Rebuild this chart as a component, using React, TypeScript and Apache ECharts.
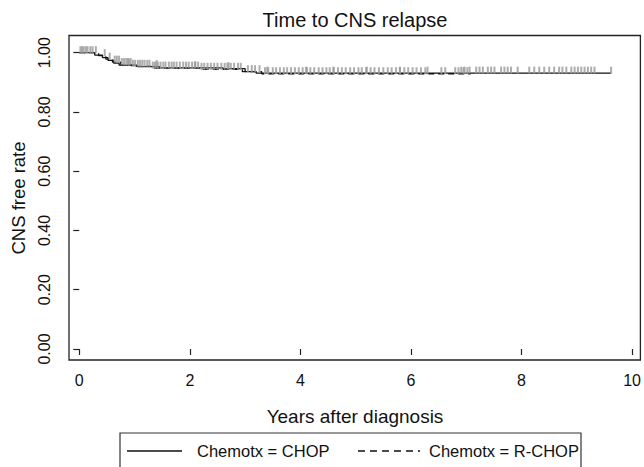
import React, { useEffect, useRef } from "react";
import * as echarts from "echarts";

// Kaplan-Meier step points: [years, CNS free rate]
const chopTimes = [0, 0.28, 0.42, 0.52, 0.62, 0.72, 1.05, 1.45, 2.6, 3.0, 3.2, 9.62];
const chopRates = [1.0, 0.992, 0.983, 0.974, 0.965, 0.958, 0.953, 0.949, 0.946, 0.936, 0.931, 0.931];
const rchopTimes = [0, 0.35, 0.48, 0.6, 0.75, 0.95, 1.3, 2.2, 2.95, 3.3, 7.08];
const rchopRates = [1.0, 0.99, 0.978, 0.968, 0.96, 0.954, 0.948, 0.944, 0.936, 0.929, 0.929];

// censoring times (years)
const chopCensor = [0.05, 0.12, 0.2, 0.9, 1.4, 2.1, 2.7, 3.4, 4.1, 4.6, 5.2, 5.8, 6.3,
  6.91, 6.97, 7.06, 7.18, 7.24, 7.3, 7.39, 7.45, 7.51, 7.63, 7.69, 7.75, 7.81, 7.93,
  8.14, 8.23, 8.32, 8.41, 8.5, 8.59, 8.68, 8.74, 8.81, 8.9, 8.96, 9.02, 9.08, 9.14,
  9.2, 9.26, 9.32, 9.62];
const rchopCensor = [0.02, 0.08, 0.15, 0.24, 0.3, 0.46, 0.55, 0.64, 0.68, 0.72, 0.77,
  0.81, 0.85, 0.88, 0.93, 0.97, 1.01, 1.06, 1.1, 1.14, 1.18, 1.23, 1.27, 1.33, 1.37,
  1.42, 1.47, 1.52, 1.56, 1.62, 1.67, 1.71, 1.76, 1.82, 1.88, 1.93, 1.98, 2.04, 2.09,
  2.15, 2.21, 2.26, 2.32, 2.38, 2.44, 2.5, 2.57, 2.63, 2.68, 2.74, 2.8, 2.87, 2.92,
  3.05, 3.12, 3.18, 3.26, 3.36, 3.42, 3.5, 3.56, 3.63, 3.7, 3.76, 3.83, 3.9, 3.97,
  4.04, 4.12, 4.18, 4.25, 4.33, 4.4, 4.47, 4.53, 4.6, 4.68, 4.75, 4.82, 4.9, 4.97,
  5.05, 5.11, 5.19, 5.27, 5.34, 5.42, 5.5, 5.58, 5.65, 5.73, 5.8, 5.88, 5.95, 6.03,
  6.1, 6.18, 6.26, 6.55, 6.62, 6.8, 6.86, 6.95, 7.02];

const xTicks = [0, 2, 4, 6, 8, 10];
const yTicks = [0, 0.2, 0.4, 0.6, 0.8, 1.0];

const FONT = '"Liberation Sans", Arial, Helvetica, sans-serif';

function stepValue(times: number[], rates: number[], t: number) {
  let v = rates[0];
  for (let i = 0; i < times.length; i++) {
    if (times[i] <= t) v = rates[i];
  }
  return v;
}

export default function App() {
  const ref = useRef<HTMLDivElement>(null);
  useEffect(() => {
    if (!ref.current) return;
    const chart = echarts.init(ref.current, undefined, { renderer: "svg" });
    const chopLine = chopTimes.map((t, i) => [t, chopRates[i]]);
    const rchopLine = rchopTimes.map((t, i) => [t, rchopRates[i]]);
    const chopC = chopCensor.map((t) => [t, stepValue(chopTimes, chopRates, t)]);
    const rchopC = rchopCensor.map((t) => [t, stepValue(rchopTimes, rchopRates, t)]);
    const censorStyle = {
      type: "scatter" as const,
      symbol: "rect",
      symbolSize: [2, 7],
      symbolOffset: [0, -3],
      itemStyle: { color: "#999999" },
      z: 3,
    };
    chart.setOption({
      animation: false,
      backgroundColor: "#fff",
      textStyle: { fontFamily: FONT },
      grid: {
        left: 69,
        right: 3,
        top: 35.5,
        bottom: 107,
        show: true,
        borderColor: "#222",
        borderWidth: 1.3,
        backgroundColor: "#fff",
      },
      xAxis: {
        type: "value",
        min: -0.186,
        max: 10.15,
        axisLine: { show: false },
        splitLine: { show: false },
        axisTick: {
          show: true,
          customValues: xTicks,
          length: 6,
          lineStyle: { color: "#222", width: 1.2 },
        },
        axisLabel: {
          customValues: xTicks,
          color: "#111",
          fontSize: 16,
          fontFamily: FONT,
          margin: 12,
        },
      },
      yAxis: {
        type: "value",
        min: -0.0371,
        max: 1.058,
        axisLine: { show: false },
        splitLine: { show: false },
        axisTick: {
          show: true,
          customValues: yTicks,
          length: 6,
          lineStyle: { color: "#222", width: 1.2 },
        },
        axisLabel: {
          customValues: yTicks,
          rotate: 90,
          color: "#111",
          fontSize: 16,
          fontFamily: FONT,
          margin: 17,
          formatter: (v: number) => v.toFixed(2),
        },
      },
      graphic: [
        {
          type: "text",
          x: 355,
          y: 20,
          style: {
            text: "Time to CNS relapse",
            font: `20px ${FONT}`,
            fill: "#111",
            textAlign: "center",
            textVerticalAlign: "middle",
          },
        },
        {
          type: "text",
          x: 355,
          y: 416,
          style: {
            text: "Years after diagnosis",
            font: `19px ${FONT}`,
            fill: "#111",
            textAlign: "center",
            textVerticalAlign: "middle",
          },
        },
        {
          type: "text",
          x: 18,
          y: 198,
          rotation: Math.PI / 2,
          style: {
            text: "CNS free rate",
            font: `18.5px ${FONT}`,
            fill: "#111",
            textAlign: "center",
            textVerticalAlign: "middle",
          },
        },
        {
          type: "rect",
          shape: { x: 120, y: 433, width: 461, height: 60 },
          style: { fill: "#fff", stroke: "#333", lineWidth: 1.2 },
        },
        {
          type: "line",
          shape: { x1: 127, y1: 451, x2: 182, y2: 451 },
          style: { stroke: "#111", lineWidth: 1.3 },
        },
        {
          type: "text",
          x: 197,
          y: 451,
          style: {
            text: "Chemotx = CHOP",
            font: `16.5px ${FONT}`,
            fill: "#111",
            textAlign: "left",
            textVerticalAlign: "middle",
          },
        },
        {
          type: "line",
          shape: { x1: 358, y1: 451, x2: 420, y2: 451 },
          style: { stroke: "#111", lineWidth: 1.3, lineDash: [7, 5] },
        },
        {
          type: "text",
          x: 429,
          y: 451,
          style: {
            text: "Chemotx = R-CHOP",
            font: `16.5px ${FONT}`,
            fill: "#111",
            textAlign: "left",
            textVerticalAlign: "middle",
          },
        },
      ],
      series: [
        {
          name: "Chemotx = CHOP",
          type: "line",
          step: "end",
          data: chopLine,
          symbol: "none",
          lineStyle: { color: "#111", width: 1.3 },
          z: 2,
        },
        {
          name: "Chemotx = R-CHOP",
          type: "line",
          step: "end",
          data: rchopLine,
          symbol: "none",
          lineStyle: { color: "#111", width: 1.3, type: [6, 4] },
          z: 2,
        },
        { ...censorStyle, name: "CHOP censored", data: chopC },
        { ...censorStyle, name: "R-CHOP censored", data: rchopC },
      ],
    });
    return () => chart.dispose();
  }, []);
  return <div ref={ref} style={{ width: 644, height: 467, position: "absolute", left: 0, top: 0 }} />;
}
